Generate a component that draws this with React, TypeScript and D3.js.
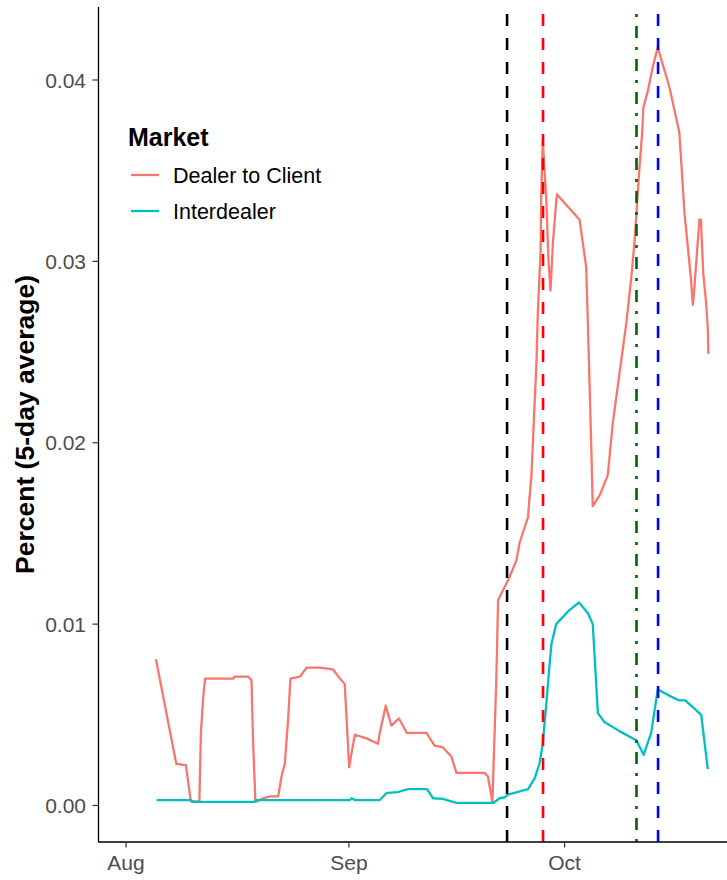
import React from "react";
import * as d3 from "d3";

// ---- data (5-day average, percent) ----
const dealerDates = [
  "2022-08-05 04", "2022-08-08 00", "2022-08-09 08", "2022-08-10 00", "2022-08-11 05", "2022-08-11 10",
  "2022-08-11 18", "2022-08-12 00", "2022-08-15 22", "2022-08-16 02", "2022-08-18 00", "2022-08-18 11",
  "2022-08-18 16", "2022-08-19 00", "2022-08-20 02", "2022-08-21 02", "2022-08-22 04", "2022-08-22 15",
  "2022-08-23 02", "2022-08-23 13", "2022-08-23 21", "2022-08-25 04", "2022-08-26 03", "2022-08-27 23",
  "2022-08-29 19", "2022-08-30 23", "2022-08-31 10", "2022-08-31 16", "2022-09-01 01", "2022-09-01 09",
  "2022-09-01 20", "2022-09-03 11", "2022-09-05 01", "2022-09-05 07", "2022-09-06 03", "2022-09-06 22",
  "2022-09-07 23", "2022-09-09 02", "2022-09-11 19", "2022-09-12 22", "2022-09-14 02", "2022-09-15 06",
  "2022-09-15 23", "2022-09-19 21", "2022-09-20 08", "2022-09-20 23", "2022-09-21 03", "2022-09-21 12",
  "2022-09-21 18", "2022-09-22 05", "2022-09-23 03", "2022-09-24 07", "2022-09-24 18", "2022-09-25 22",
  "2022-09-26 03", "2022-09-26 09", "2022-09-27 02", "2022-09-27 07", "2022-09-27 16", "2022-09-27 18",
  "2022-09-27 23", "2022-09-28 05", "2022-09-28 11", "2022-09-28 18", "2022-09-29 01", "2022-09-29 09",
  "2022-09-29 22", "2022-10-03 02", "2022-10-04 00", "2022-10-04 06", "2022-10-04 17", "2022-10-04 22",
  "2022-10-05 21", "2022-10-07 00", "2022-10-07 17", "2022-10-08 15", "2022-10-09 14", "2022-10-10 06",
  "2022-10-10 17", "2022-10-11 10", "2022-10-11 19", "2022-10-11 23", "2022-10-12 14", "2022-10-13 06",
  "2022-10-13 23", "2022-10-15 14", "2022-10-16 23", "2022-10-17 05", "2022-10-17 16", "2022-10-18 14",
  "2022-10-18 20", "2022-10-19 01", "2022-10-19 18", "2022-10-19 23", "2022-10-20 07", "2022-10-20 16",
  "2022-10-20 22", "2022-10-21 00",
];
const dealerValues = [
  0.00806, 0.00229, 0.00223, 0.00025, 0.0002, 0.0040,
  0.0060, 0.0070, 0.0070, 0.0071, 0.0071, 0.0069,
  0.0036, 0.0002, 0.0004, 0.0005, 0.0005, 0.0016,
  0.0023, 0.0047, 0.0070, 0.0071, 0.0076, 0.0076,
  0.0075, 0.0069, 0.0067, 0.0049, 0.0021, 0.0029,
  0.0039, 0.0037, 0.0034, 0.0040, 0.0055, 0.0044,
  0.0048, 0.0040, 0.0040, 0.0033, 0.0032, 0.0027,
  0.0018, 0.0018, 0.0016, 0.0002, 0.0023, 0.0069,
  0.0113, 0.0117, 0.0124, 0.0135, 0.0145, 0.0159,
  0.0170, 0.0181, 0.0244, 0.0273, 0.0306, 0.0336,
  0.0367, 0.0350, 0.0334, 0.0301, 0.0284, 0.0310,
  0.0337, 0.0323, 0.0297, 0.0264, 0.0198, 0.0165,
  0.0171, 0.0182, 0.0211, 0.0238, 0.0266, 0.0290,
  0.0310, 0.0352, 0.0371, 0.0385, 0.0394, 0.0407,
  0.0418, 0.0396, 0.0371, 0.0356, 0.0327, 0.0290,
  0.0276, 0.0285, 0.0323, 0.0323, 0.0293, 0.0278,
  0.0263, 0.0249,
];

const interDates = [
  "2022-08-05 06", "2022-08-10 00", "2022-08-10 04", "2022-08-18 20", "2022-08-19 01", "2022-09-01 03",
  "2022-09-01 09", "2022-09-01 20", "2022-09-05 07", "2022-09-06 07", "2022-09-07 20", "2022-09-08 07",
  "2022-09-09 06", "2022-09-11 21", "2022-09-12 17", "2022-09-14 02", "2022-09-15 00", "2022-09-15 23",
  "2022-09-21 03", "2022-09-21 23", "2022-09-22 16", "2022-09-23 03", "2022-09-25 22", "2022-09-26 20",
  "2022-09-27 12", "2022-09-27 23", "2022-09-28 11", "2022-09-28 22", "2022-09-29 04", "2022-09-29 20",
  "2022-10-01 11", "2022-10-03 00", "2022-10-04 06", "2022-10-04 22", "2022-10-05 15", "2022-10-06 13",
  "2022-10-08 15", "2022-10-10 23", "2022-10-12 00", "2022-10-13 01", "2022-10-13 23", "2022-10-15 08",
  "2022-10-16 21", "2022-10-17 19", "2022-10-20 00", "2022-10-20 22",
];
const interValues = [
  0.0003, 0.0003, 0.0002, 0.0002, 0.0003, 0.0003,
  0.0004, 0.0003, 0.0003, 0.0007, 0.00074, 0.0008,
  0.0009, 0.0009, 0.0004, 0.00036, 0.00025, 0.00015,
  0.00015, 0.0004, 0.00045, 0.0006, 0.0009, 0.0015,
  0.0023, 0.0034, 0.0056, 0.0078, 0.0089, 0.0100,
  0.0107, 0.0112, 0.0106, 0.0100, 0.0051, 0.0046,
  0.0041, 0.0036, 0.0028, 0.0040, 0.0064, 0.0061,
  0.0058, 0.0058, 0.0050, 0.0020,
];

const eventDates = ["2022-09-23 00", "2022-09-28 00", "2022-10-11 00", "2022-10-14 00"];
const eventColors = ["#000000", "#FF0000", "#006400", "#0000FF"];
const eventDashes = ["12,12", "12,12", "3,9,12,9", "12,12"];

const seriesNames = ["Dealer to Client", "Interdealer"];
const seriesColors = ["#F8766D", "#00BFC4"];
const yTicks = [0, 0.01, 0.02, 0.03, 0.04];
const xTickDates = ["2022-08-01 00", "2022-09-01 00", "2022-10-01 00"];

const parse = d3.timeParse("%Y-%m-%d %H");

const W = 727;
const H = 880;
const panel = { left: 98.5, right: 727, top: 7, bottom: 842 };
const FONT = "'Liberation Sans', Arial, Helvetica, sans-serif";

export default function App() {
  const x = d3
    .scaleTime()
    .domain([parse("2022-08-01 00")!, parse("2022-10-01 00")!])
    .range([126, 564.6]);
  const y = d3.scaleLinear().domain([0, 0.04]).range([805.5, 80]);

  const line = d3
    .line<[Date, number]>()
    .x((d) => x(d[0]))
    .y((d) => y(d[1]));

  const dealer = dealerDates.map((s, i) => [parse(s)!, dealerValues[i]] as [Date, number]);
  const inter = interDates.map((s, i) => [parse(s)!, interValues[i]] as [Date, number]);
  const series = [dealer, inter];
  const fmtY = d3.format(".2f");
  const fmtX = d3.timeFormat("%b");

  return (
    <div style={{ position: "absolute", left: 0, top: 0 }}>
      <svg width={W} height={H} style={{ display: "block", background: "#fff" }}>
        {/* data lines */}
        {series.map((s, i) => (
          <path
            key={seriesNames[i]}
            d={line(s) || ""}
            fill="none"
            stroke={seriesColors[i]}
            strokeWidth={2.3}
            strokeLinejoin="round"
          />
        ))}
        {/* event lines, drawn bottom to top */}
        {eventDates.map((s, i) => {
          const xv = x(parse(s)!);
          return (
            <line
              key={s}
              x1={xv}
              x2={xv}
              y1={panel.bottom}
              y2={panel.top}
              stroke={eventColors[i]}
              strokeWidth={2.6}
              strokeDasharray={eventDashes[i]}
            />
          );
        })}
        {/* axes */}
        <line x1={panel.left} x2={panel.left} y1={panel.top} y2={panel.bottom + 0.5} stroke="#000" strokeWidth={1.3} />
        <line x1={panel.left} x2={panel.right} y1={panel.bottom} y2={panel.bottom} stroke="#000" strokeWidth={1.3} />
        {yTicks.map((t) => (
          <g key={t}>
            <line x1={92.5} x2={panel.left} y1={y(t)} y2={y(t)} stroke="#333" strokeWidth={1.2} />
            <text
              x={86}
              y={y(t)}
              dy="0.36em"
              textAnchor="end"
              fontFamily={FONT}
              fontSize={21}
              fill="#4D4D4D"
            >
              {fmtY(t)}
            </text>
          </g>
        ))}
        {xTickDates.map((s) => {
          const xv = x(parse(s)!);
          return (
            <g key={s}>
              <line x1={xv} x2={xv} y1={panel.bottom} y2={panel.bottom + 5.5} stroke="#333" strokeWidth={1.2} />
              <text x={xv} y={870} textAnchor="middle" fontFamily={FONT} fontSize={21} fill="#4D4D4D">
                {fmtX(parse(s)!)}
              </text>
            </g>
          );
        })}
        {/* y axis title */}
        <text
          transform={`translate(34,${(panel.top + panel.bottom) / 2}) rotate(-90)`}
          textAnchor="middle"
          fontFamily={FONT}
          fontWeight="bold"
          fontSize={26.5}
          fill="#000"
        >
          Percent (5-day average)
        </text>
        {/* legend */}
        <text x={128} y={146} fontFamily={FONT} fontWeight="bold" fontSize={25} fill="#000">
          Market
        </text>
        {seriesNames.map((n, i) => (
          <g key={n}>
            <line x1={131} x2={159} y1={175 + i * 36} y2={175 + i * 36} stroke={seriesColors[i]} strokeWidth={2.3} />
            <text x={173} y={175 + i * 36} dy="0.36em" fontFamily={FONT} fontSize={21.5} fill="#000">
              {n}
            </text>
          </g>
        ))}
      </svg>
    </div>
  );
}
